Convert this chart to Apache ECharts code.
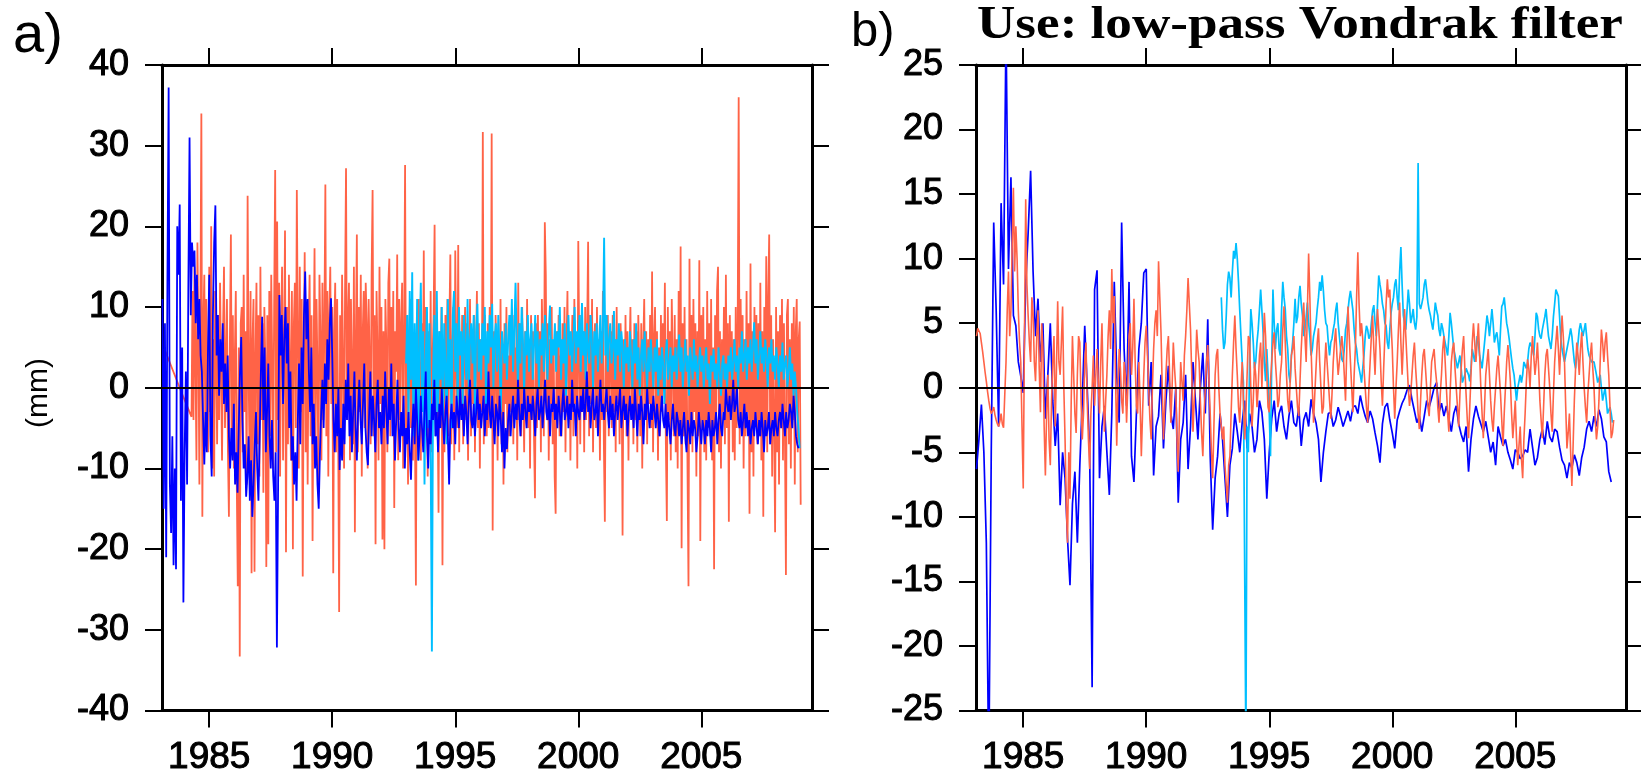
<!DOCTYPE html>
<html><head><meta charset="utf-8">
<script src="https://cdn.jsdelivr.net/npm/echarts@6/dist/echarts.min.js"></script>
<style>html,body{margin:0;padding:0;background:#fff}#c{width:1641px;height:777px}</style>
</head><body><div id="c"></div>
<script>
// ---------- tick labels ----------
const xTickYears = [1985, 1990, 1995, 2000, 2005];

// ---------- panel a: raw series (mm) ----------
const redA_early = [[1983.18, 4.8], [1983.85, -0.4], [1984.28, -3.6]];
const redA_start = 1984.32, redA_step = 0.04;
const redA = [
12,-4,15,3,-9,18,6,-12,10,34,-16,8,14,-6,11,2,-8,15,-3,20,-10,6,-11,12,4,
-7,9,-4,13,2,-9,7,15,-5,3,11,-8,-16,6,19,-6,9,-10,4,12,-12,-24.6,5,-33.3,8,
10,-8,14,-3,7,-12,23.8,2,-9,12,-23,6,11,-22.8,4,13,-7,9,-11,15,-4,8,-13,10,3,
-22.2,9,-19.4,12,-6,14,3,-10,11,27,-8,20.6,-4,13,-11,7,15,-9,5,19.5,-20.4,10,-7,14,2,
-9,12,-20,8,13,-5,24.5,6,-10,15,-3,11,-23.4,4,16.8,-8,10,-12,7,14,-6,9,-19,3,17.3,
-7,11,2,-12,14,6,-9,13,-4,8,25.2,-6,12,-11,9,15,-2,10,-23,7,13,-8,11,-5,-27.8,
9,-6,14,3,-10,12,27.2,-4,8,13,-9,11,2,-7,15,-17.9,6,19,-8,10,-3,14,-11,7,12,
-5,13,8,-10,11,3,-7,14,24.5,-6,9,-19.4,12,4,-9,15,-2,10,-18.8,7,-20,11,5,-8,13,
16,-6,10,-3,12,-14.9,7,2,16.5,-9,11,-4,8,13,-10,6,27.6,-7,9,-12,4,11,-5,8,-9,
6,-4,-24.5,9,-7,11,2,-9,8,-3,17,-6,10,3,-11,7,-5,12,-8,4,9,20.2,-6,8,-2,
-15.5,7,-4,10,-22,5,-8,9,-3,11,-6,8,16.5,-7,4,10,-9,17,3,-5,17.7,-8,6,-3,9,
-7,5,10,-4,8,-9,3,11,-6,7,-2,9,-8,4,12,-5,8,-10,6,-3,31.7,-7,9,2,-6,
8,-5,10,-3,31.5,-17.7,7,-6,9,2,-9,6,-4,11,-7,5,-12,8,-2,10,-8,4,-6,9,-3,
6,-7,9,-2,5,-9,13,-4,8,-6,10,1,-8,7,-3,11,-5,6,-10,9,-4,7,-6,-13.7,8,
-5,9,-3,7,-8,11,4,-6,20.5,14,-4,8,-9,6,-2,10,-7,5,-11,-15.6,7,-3,9,-6,4,
-6,8,-3,10,-8,5,12,-4,7,-9,3,9,-6,11,-2,6,-10,18.2,5,-7,9,-3,7,-8,10,
-4,7,18.1,-6,9,-2,11,-8,5,8,-5,10,-3,6,-9,7,-4,12,-7,-16.6,6,-3,9,-6,4,
7,-5,9,-3,6,-8,10,-2,5,-7,8,3,-18.3,6,-4,9,-6,7,-9,4,10,-3,6,-7,8,
-4,7,-8,9,2,-6,8,-10,5,11,-3,7,-7,6,-2,9,-5,14.4,-8,6,10,-4,7,-9,5,
-6,9,-3,8,1,13,-7,-16.5,10,-4,7,-9,11,3,-6,9,-8,6,-10,12,-5,17.5,-19.9,8,-6,
10,-7,6,-10,-24.6,16,-5,9,-8,11,-3,8,-11,7,-6,15.8,-19,9,-4,10,-8,6,-9,12,-5,
8,-6,11,-9,5,-22.5,9,-4,12,15,-8,7,-10,6,-3,10,-7,14,-5,8,-16.6,9,-4,7,-8,
6,-9,10,-5,8,36,-7,11,-4,9,-10,6,-6,12,-3,8,-15.6,15.4,-8,7,-11,10,-4,9,-7,
8,-6,13,-9,7,-16,10,-5,16.3,-8,11,19,-7,9,-11,6,-4,-17.9,10,-8,7,-12,9,-5,11,
-9,8,-6,-23.2,9,11,-7,6,-10,8,-4,10,-12,7,11,-8,6,8.2,-14.5
];
const blueA_start = 1983.10, blueA_step = 0.05;
const blueA = [
11,-15,8,-21,13,37.2,-12,-18,-6,-22,-10,-22.5,20,14,22.7,-14,5,-26.6,-8,2,
-12,12,31,9,18,15,17,8,14,6,11,4,2,-4,-9.5,-3,-8,5,14,-6,
-11,9,18,22.6,4,9,-1,6,2,8,-2,3,-3,4,-6,-10,-5,-9,-2,-12,
-8,-13,-5,2,6.3,-4,-10,-7,-13.5,-11,-6,-14,-9,-16,-12,-7,-3,-10,-14,-6,
2,8.8,-4,5,-8,-3,3,-6,-10,-4,-11,-14,-8,-32.2,-12,11.5,4,9,-2,6,
10,3,8,-5,2,-9,-6,-12,-8,-14,-4,3,-7,5,-2,9,14.4,6,11,2,
-3,5,-7,-2,-10,-6,-12,-15,-8,-3,1,-5,3,-2,6,1,8,11.1,4,-4,
-8,-2,-6,0,-10.2,-5,-9,-2,-7,1,-4,3,-6,-1,-8,-3,2,-5,-9,-3,
1,-4,-7,-2,3,-5,-8,-9.6,-3,2,-6,-1,-4,-8,-2,1,-5,-3,-7,-1,
-5,2,-3,-7,0,-4,3,-6,-2,-9,-4,1,-5,-8,-3,-6,-1,-10,-5,-7,
-3,-8,-11.4,-5,-2,-7,0,-4,-9,-6,-1,-5,-8,-3,2,-6,-10,-4,-7,-2,
-4,1,-6,-3,-8,-2,-5,0,-4,-7,-3,-1,-6,-12,-4,-2,-5,-3,-7,-1,
-3,-5,0,-4,-2,-6,-1,-3,-7,-2,1,-4,-5,-2,-6,-3,0,-4,-2,-5,
-3,-1,-6,-2,-4,2,-3,-5,-1,-4,-7,-2,-3,-6,-1,-4,-8,-3,-10,-5,
-7.6,-4,-2,-6,-3,-1,-5,-2,-4,1,-3,-6,-2,-4,0,-3,-5,-1,-3,-2,
-4,-1,-3,-6,-2,0,-4,-3,-1,-5,-2,1,-3,-4,-1,-6,-2,-3,0,-4,
-2,-5,-1,-3,-6,-2,0,-4,-3,-1,-5,-2,-4,1,-3,-2,-6,-1,-3,-4,
-1,-3,0,-4,-2,2,-3,-1,-5,-2,0,-4,-3,-1,-6,-2,1,-3,-2,-4,
-2,0,-3,-5,-1,-4,-2,-6,-3,-1,-4,-2,0,-5,-3,-1,-4,-2,-6,-3,
-1,-4,-2,-5,0,-3,-6,-2,-4,-1,-3,-7,-2,-4,0,-3,-5,-2,-4,-1,
-3,-5,-2,-4,-6,-3,-1,-4,-5,-2,-6,-3,-5,-7,-4,-2,-5,-6,-3,-4,
-6,-4,-7,-5,-3,-6,-8,-4,-5,-7,-3,-6,-4,-5,-8,-6,-3,-5,-7,-4,
-5,-7,-4,-6,-3,-5,-8,-4,-6,-5,-3,-7,-4,-2,-5,-6,-3,-4,0,-2,
-3,-1,-4,-2,1,-3,-2,0,-4,-5,-3,-6,-4,-2,-5,-3,-6,-4,-7,-5,
-4,-6,-3,-5,-7,-4,-6,-3,-5,-8,-4,-6,-5,-3,-7,-5,-4,-6,-3,-5,
-6,-4,-3,-5,-2,-4,-6,-3,-5,-4,-2,-3,-5,-1,-3,-6,-7,-7.5
];
const cyanA_start = 1993.00, cyanA_step = 0.05;
const cyanA = [
3,9,-4,12,1,14.3,-6,8,-2,11,-9,6,13,-3,7,-12,4,10,-5,8,
-8,-32.7,2,9,-6,12,-3,7,1,10,-4,8,3,-7,11,0,6,-5,9,12,
2,8,-3,10,4,7,-2,9,5,1,11,-1,6,8,3,9,-4,7,10.4,2,
6,1,8,4,10,-2,7,3,9,5,10.4,0,6,8,2,9,4,-3,7,5,
3,8,1,6,9,4,11,2,7,13,5,0,8,3,10,6,-1,7,4,9,
2,6,8,1,5,9,3,7,0,6,4,8,2,9,5,1,7,10.2,3,6,
4,8,2,7,5,10,1,6,3,8,-1,5,9,4,7,2,6,10,3,7,
5,9,2,10.5,4,7,1,8,5,3,9,6,0,7,4,8,2,6,9,3,
7,18.6,4,9,2,6,8,3,5,9.5,1,6,4,8,2,7,5,0,6,3,
5,2,7,4,0,6,3,8,1,5,-1,4,6,2,7,3,0,5,2,6,
3,0,5,2,6,-1,4,1,5,3,-2,4,6,1,3,5,0,4,2,5,
1,4,6.6,2,5,0,3,6,2,4,-1,5,3,1,6,2,4,0,3,5,
2,4,0,3,5,1,3,-2,4,2,4.8,1,3,0,5,2,-1,3,4,1,
3,0,4,2,5,1,3,6,2,4,0,5,3,7,2,4,6,1,5,3,
6,2,5,8.1,3,6,1,4,7,3,5,2,6,4,0,5,3,6,2,4,
1,5,3,0,4,2,5.6,1,3,4,0,2,5,1,3,-1,2,0,-3,-5,
-7.5
];

// ---------- panel b: low-pass Vondrak filtered series (mm) ----------
const blueB_start = 1983.1, blueB_step = 0.1;
const blueB = [
-6.3,-4,-1.3,-5,-12,-30,-5,12.8,6,-3,
14.3,8,28,9.2,16.3,5.6,4.8,2,0.9,-0.4,
8,12,16.8,9,4,6.9,2,5,-2.4,1,
5,-1,-4.5,-2,-9.1,-5,-7,-11.7,-15.3,-9,
-6.5,-12,-6,-1,4.8,0,-5,-23.2,7.6,9.1,
-7,-3,-1.4,-5,-8.3,-2,8.2,1,-2.7,12.8,
3,-1.4,8.2,-5.3,-7.3,-2,3,5,8.9,9.2,
-1.4,2,-6.8,-3,-2.2,1,-4.7,-1,1.7,-2,
-3.2,0,-8.9,-4,-2.7,1,-6.3,-3,2,-1,
-4,0,2.7,-2,5.3,-5.3,-11,-7,-5.3,-2,
-4,-7,-10,-6,-4.7,-2,-3.4,-5,-2.7,-1,
-4.7,-2,-3,-5,-4,-1,-1.9,-4,-8.6,-5,
-2.4,-1,-3.4,-2,-1.4,-3,-4,-2.2,-1,-2.7,
-3,-1.5,-4.5,-2.5,-1.9,-3,-0.9,-2,-2.7,-4,
-7.3,-5,-3.4,-2,-1.9,-3,-2.5,-1.5,-2.2,-3,
-2.4,-1.8,-2.6,-1.5,-1.4,-2,-0.6,-1.5,-2.2,-2.7,
-1.8,-2.4,-3.5,-4.5,-5.8,-2.8,-1.5,-1.2,-2.5,-3.5,
-4.7,-2.5,-1.8,-1.2,-0.8,-0.2,0.2,-0.9,-1.8,-2.7,
-2.2,-3.4,-2.2,-1,-1.5,-0.8,0,0.4,-1.9,-1.2,
-2.2,-1.4,-2.4,-3.4,-2,-1.4,-2.8,-3.6,-4.2,-3,
-6.5,-4,-2.4,-1.4,-2.2,-2.8,-3.4,-2.6,-3.8,-5,
-4.2,-6,-3,-3.8,-4.5,-4,-5,-5.6,-6.3,-4.8,
-5,-5.5,-5.3,-4.8,-5,-3.2,-4.6,-6,-5.4,-4,
-3.2,-4.4,-2.6,-3.8,-4.2,-3.2,-3.4,-4.6,-5.6,-6,
-7,-5.8,-6.2,-5.2,-5.8,-6.8,-5.4,-4.6,-3.2,-2.6,
-3.4,-2.2,-3,-1.7,-2.4,-3.8,-4.2,-6.5,-7.3
];
const redB_start = 1983.1, redB_step = 0.05;
const redB = [
4,4.6,4.7,4.2,3.5,2.8,2,1.2,0.5,-0.3,-1,-1.6,-2,-1.8,-1.5,-2.1,-2.5,-2.8,-3,-2.6,
-2,-2.8,-3.1,-0.5,2,6,9,4,6,11,15.5,9,12.5,10,6,3.5,2,-3,-7.8,4,
14.6,8,5.6,3.5,2,7,5.8,2,0.5,4,6,1.5,-1.9,5,3,-3,-6.8,-2,1,-4,
-6,-1,2,4,-3,1.5,6.7,2,1,3.5,6.3,0,-4,-9,-12,-5,-8.6,-1,4,1,
-2,-3.5,1,4,3.5,-1,-4,-2,2,3.5,-1,-4,-6.3,-2,0,2.5,-1.4,1,3,0.5,
-2,2,5,0,-3.4,-1,1,4,6,3,9.2,5,7.1,1,-4.5,0,3,1.5,-1,-2,
2,1,-2.7,0,4,5,1,3,6.9,2,-1.4,-2,2,-1,-5.3,-2,1,3.5,4.8,2.5,
0,-2.5,-4,0,3,5,6,4,9.8,7,4.3,0,-4,-1.5,1,3,4,1,-2.7,0,
3.5,1.5,0,-4,-6.5,-2,2,0.5,-1,2.5,4,6,8.5,6.5,4.5,1,-3.4,-1,1,4.5,
3,2,-1,-3.5,-5.3,-2,0,2,3.3,0.5,-2,-5,-7,-3,1,2.5,3,0,-2,-3,
-4,-3,-6,-7.5,-8.9,-6,-5.3,-2,1,3.5,5.6,3,1,-1.5,-2.7,0,2,-1,-4,-2,
1,4,3.8,0,-3,-1,2,1,-1.5,0,2.5,3.5,0,3,5.8,4,1,-1.5,-1.9,0.5,
2,3.5,4.3,2,0.5,-1.5,-0.9,1,2,4.5,6.3,3.5,1,-1,-1.9,0.5,2.5,3,4,1.5,
0,-1.5,-2.2,0.5,3,5,6.6,4,2,6,10.4,7,3,0,-2.7,-0.5,1.5,3.5,4.6,2,
0,-2,-1.5,1.5,3.5,2,0.5,-1,-2.4,-0.5,2,3.5,4.6,2.5,1,2,3,4,2.9,1,
-1,3,6.3,4,2,0,-1.9,1,3,7,10.5,6.5,4,5,3.8,1.5,0,-1.5,-2.7,0,
2,4,5.6,3,1,4,6.1,4.5,3,0.5,-1.4,1.5,4,6.5,8.4,7,7.6,5,3,0,
-2.4,0,2,4.5,6.6,3.5,1,3.5,6.1,4,2,0,-1.4,-0.5,1,2.5,3.5,1.5,0,-2,
-3.2,-1,1,2.5,3,1.5,0,-1.5,-2.2,0,2,2.5,3,1.5,0.5,-1.5,-2.7,-0.5,1,3,
4,2,0,-2,-3.4,-0.5,2,3,3.5,1.5,0,-1.5,-3,-0.5,1.5,3,4,1.5,-0.5,-2.5,
-3.9,-1.5,1,3.5,5,3.5,2,3.5,5,2.5,0,-2,-3.9,-1.5,1,2,3,1,-1,-2.5,
-3.4,-1.5,0,1.5,2.5,1,-0.5,-2.5,-4.5,-2,0,2,3.3,2,0.5,-2,-3.9,-2.5,-1,-4,
-6,-4.5,-3,-5.5,-7,-4,-2,0.5,2.2,1.5,0,2.5,4,2.5,1,2,3.5,1.5,-1,-2.5,
-3.9,-1.5,1,2.5,3,1.5,0,-2,-3.4,-0.5,2,3.5,4.8,3,1,3.5,5.6,4,2,-1.5,
-4.7,-3.5,-2,-5,-7.6,-4.5,-1,1.5,3.5,2.5,1,3,4.3,2,0,-1.5,-2.7,-0.5,1,2.5,
3.5,1.5,0,-2.5,-4,-3,-1,2,4.5,3.5,2,3.5,4.3,2.5,1,-1.5,-3.9,-3.5,-2.5
];
const cyanB_start = 1993.05, cyanB_step = 0.05;
const cyanB = [
7,4.5,3,3.5,5.5,8,9,8.5,7,9,10.6,10,11.2,10,8.2,6,4,2,0.4,0.5,
-28,-3,-5,2,6.1,5,3.5,1.5,2,3.5,4.5,6,7.6,6,4.3,2,0.5,3,1,-2,
-5.3,2,7.6,5,3,4.5,5,3,2.5,6,8.2,7,6.1,4,3,1,0.4,2.5,3.5,5,
6.9,5,5.5,7,7.9,6.5,5.6,4,4.5,5.5,6.6,5,4,2.5,3,4,4.5,5,6.1,7,
8.2,7.5,8.7,7.5,6,5,4.8,3.5,2.5,3.5,3.8,4.5,5,6,6.6,5,4,3,2.2,2,
3,4.5,5,6,6.9,7.5,7.6,6,4.5,3.5,3,2,1.5,1,0.4,1.5,2.5,4,4.8,4.5,
3.8,4,5,6,6.4,5,4,6.5,8.7,8,7.4,6.5,6,5,4.8,3.5,3,4.5,5.8,6.5,
7,8,8.4,7,6,9,10.9,8,5.6,5,4.5,6,7.6,6.5,5,5.5,6.1,5,4.5,5.5,
17.4,6.5,6.1,6.5,7,8,8.4,7.5,6.6,6,5.6,5,4.5,5.5,6.6,6,5.6,4.5,4,5,
4.6,4,3.5,3,2.5,4,5.8,5,4,3,2.5,2,1.5,2,2.5,1.5,0.4,0.5,1,1.5,
1.5,1,0.5,1.5,3,2.5,2,3,4,3.5,2.5,2,1.5,2.5,3.5,4.5,5.6,5,4,5,
6.1,5,3.5,4,4.3,3.5,2.5,4.5,6.3,6.5,7,6,5,4.5,3.8,3,2.2,1.5,1,0,
-1,0,0.5,1,0.4,1,2,2,1.5,2,3,3.5,3.5,3,2.5,4,5.8,5.5,4.5,4,
3.8,4.5,5,5.5,6.1,5,4,3.5,3,4,5.5,6.5,7.6,7.5,7.1,5.5,3.8,3,2.5,2,
2,3,3.5,4,4.6,4,3,2,1.5,2.5,3.5,4.5,5,4.5,4,4.5,5,4,3,2.5,
2.5,2,2,2,1.5,1,0.4,0.5,1,0,-1,-0.5,0,-1,-2,-2,-1.5,-2,-2.7
];

// ---------- build ----------
function toPairs(start, step, vals) {
  return vals.map((v, i) => [+(start + i * step).toFixed(3), v]);
}
const COL_RED = '#FF6347', COL_CYAN = '#00BFFF', COL_BLUE = '#0000FF';
const FONT = '"Liberation Sans", Arial, Helvetica, sans-serif';
const SERIF = '"Liberation Serif", "Times New Roman", serif';

function xAx(grid, pos, labels) {
  return {
    type: 'value', gridIndex: grid, position: pos, min: 1983.08, max: 2009.5,
    axisLine: { show: true, onZero: false, lineStyle: { color: '#000', width: 3 } },
    axisTick: { show: true, inside: false, length: 17, lineStyle: { color: '#000', width: 2 }, customValues: xTickYears },
    axisLabel: { show: labels, customValues: xTickYears, formatter: v => String(Math.round(v)),
                 color: '#000', fontSize: 37, fontFamily: FONT, margin: 29,
                 textBorderColor: '#000', textBorderWidth: 1 },
    splitLine: { show: false }
  };
}
function yAx(grid, pos, labels, min, max, step) {
  return {
    type: 'value', gridIndex: grid, position: pos, min: min, max: max, interval: step,
    axisLine: { show: true, onZero: false, lineStyle: { color: '#000', width: 3 } },
    axisTick: { show: true, inside: false, length: 17, lineStyle: { color: '#000', width: 2 } },
    axisLabel: { show: labels, color: '#000', fontSize: 36, fontFamily: FONT, margin: 33,
                 textBorderColor: '#000', textBorderWidth: 1 },
    splitLine: { show: false }
  };
}
function lineSeries(xi, yi, data, color, width, z) {
  return {
    type: 'line', xAxisIndex: xi, yAxisIndex: yi, data: data, symbol: 'none', showSymbol: false,
    lineStyle: { color: color, width: width }, itemStyle: { color: color }, z: z, clip: true,
    animation: false, silent: true
  };
}
const zeroLine = {
  silent: true, symbol: 'none', label: { show: false }, animation: false,
  lineStyle: { color: '#000', width: 1.8, type: 'solid' }, data: [{ yAxis: 0 }]
};

const sRedA = lineSeries(0, 0, redA_early.concat(toPairs(redA_start, redA_step, redA)), COL_RED, 1.8, 2);
const sCyanA = lineSeries(0, 0, toPairs(cyanA_start, cyanA_step, cyanA), COL_CYAN, 1.9, 3);
const sBlueA = lineSeries(0, 0, toPairs(blueA_start, blueA_step, blueA), COL_BLUE, 1.8, 4);
sBlueA.markLine = zeroLine;
const sBlueB = lineSeries(2, 2, toPairs(blueB_start, blueB_step, blueB), COL_BLUE, 1.7, 2);
const sCyanB = lineSeries(2, 2, toPairs(cyanB_start, cyanB_step, cyanB), COL_CYAN, 1.7, 3);
const sRedB = lineSeries(2, 2, toPairs(redB_start, redB_step, redB), COL_RED, 1.6, 4);
sRedB.markLine = zeroLine;

const chart = echarts.init(document.getElementById('c'), null, { renderer: 'canvas' });
chart.setOption({
  animation: false,
  backgroundColor: '#fff',
  grid: [
    { left: 162, top: 65, width: 650, height: 647, containLabel: false },
    { left: 976, top: 65, width: 650, height: 647, containLabel: false }
  ],
  xAxis: [xAx(0, 'bottom', true), xAx(0, 'top', false), xAx(1, 'bottom', true), xAx(1, 'top', false)],
  yAxis: [yAx(0, 'left', true, -40, 40, 10), yAx(0, 'right', false, -40, 40, 10),
          yAx(1, 'left', true, -25, 25, 5), yAx(1, 'right', false, -25, 25, 5)],
  series: [sRedA, sCyanA, sBlueA, sBlueB, sCyanB, sRedB],
  graphic: [
    { type: 'text', x: 13, y: 37, silent: true,
      style: { text: 'a)', font: 'normal 56px ' + FONT, fill: '#000', align: 'left', verticalAlign: 'middle' } },
    { type: 'text', x: 851, y: 32, silent: true,
      style: { text: 'b)', font: 'normal 49px ' + FONT, fill: '#000', align: 'left', verticalAlign: 'middle' } },
    { type: 'text', x: 39, y: 393, rotation: Math.PI / 2, scaleX: 0.5, scaleY: 0.5, silent: true,
      style: { text: '(mm)', font: 'normal 60px ' + FONT, fill: '#000', align: 'center', verticalAlign: 'middle' } },
    { type: 'text', x: 977, y: 26, scaleX: 1.155, silent: true,
      style: { text: 'Use: low-pass Vondrak filter', font: 'bold 46px ' + SERIF,
               fill: '#000', align: 'left', verticalAlign: 'middle' } }
  ]
});
</script>
</body></html>
